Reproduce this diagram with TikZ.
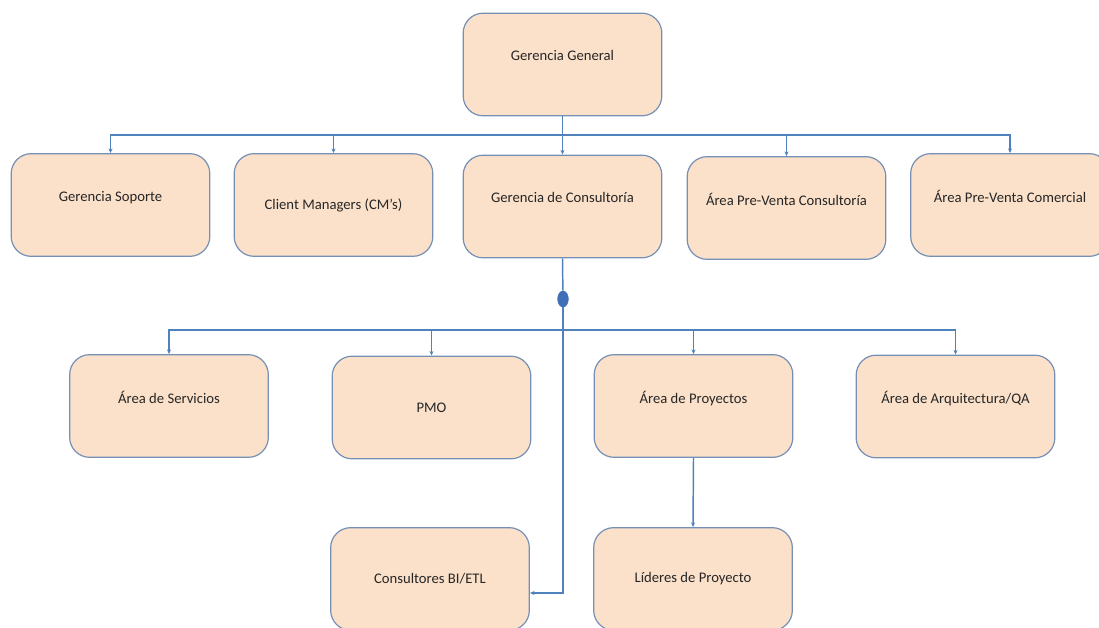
\documentclass[tikz,border=0pt]{standalone}
\usepackage{fontspec}
\setmainfont{Carlito}
\definecolor{peach}{HTML}{FCE1CA}
\definecolor{boxline}{HTML}{7690B5}
\definecolor{wire}{HTML}{4F81BD}
\definecolor{dotblue}{HTML}{3F6FB5}
\usetikzlibrary{arrows.meta, positioning, shapes.geometric}

\begin{document}
\begin{tikzpicture}[
    x={(0.75pt,0)}, y={(0,-0.75pt)},
    box/.style={draw=boxline, line width=0.9pt, rounded corners=15pt, fill=peach, minimum width=149pt, minimum height=77pt, align=center, font=\fontsize{11}{13.5}\selectfont, text=black!85},
    conn/.style={-{Stealth[length=3.5pt, width=3pt]}, line width=1.1pt, color=wire},
    wire/.style={line width=1.1pt, color=wire},
  ]
  \useasboundingbox (0,0) rectangle (1099,628);
  % nivel 1
  \node[box] (gg) at (562.5,64.5) {Gerencia General\\ \mbox{}};
  % nivel 2
  \node[box] (gs)    at (110.5,205) {Gerencia Soporte\\ \mbox{}};
  \node[box] (cm)    at (333.5,205) {Client Managers (CM's)};
  \node[box] (gc)    at (562.5,206.5) {Gerencia de Consultoría\\ \mbox{}};
  \node[box] (pvc)   at (786.5,208) {Área Pre-Venta Consultoría\\ \mbox{}};
  \node[box] (pvcom) at (1010,205) {Área Pre-Venta Comercial\\ \mbox{}};
  % nivel 3
  \node[box] (serv)  at (169,406) {Área de Servicios\\ \mbox{}};
  \node[box] (pmo)   at (431.5,407.5) {PMO};
  \node[box] (proy)  at (693.5,406) {Área de Proyectos\\ \mbox{}};
  \node[box] (arq)   at (955.5,406.5) {Área de Arquitectura/QA\\ \mbox{}};
  % nivel 4
  \node[box] (cons)  at (430,579) {Consultores BI/ETL};
  \node[box] (lid)   at (693,579) {Líderes de Proyecto};

  % bus superior
  \coordinate (bus1) at (562.5,135);
  \draw[wire] (gg.south) -- (bus1);
  \foreach \n in {gs, cm, gc, pvc, pvcom}
    \draw[conn] (bus1) -| (\n.north);

  % bus de consultoria
  \node[ellipse, fill=dotblue, draw=dotblue, minimum width=8pt, minimum height=12pt, inner sep=0pt] (dot) at (563,299) {};
  \coordinate (bus2) at (563,330);
  \coordinate (cturn) at (563,593);
  \draw[wire] (gc.south) -- (dot);
  \draw[wire] (dot) -- (bus2);
  \foreach \n in {serv, pmo, proy, arq}
    \draw[conn] (bus2) -| (\n.north);
  \draw[conn] (bus2) -- (cturn) -- (cturn -| cons.east);
  \draw[conn] (proy.south) -- (lid.north);
\end{tikzpicture}
\end{document}
